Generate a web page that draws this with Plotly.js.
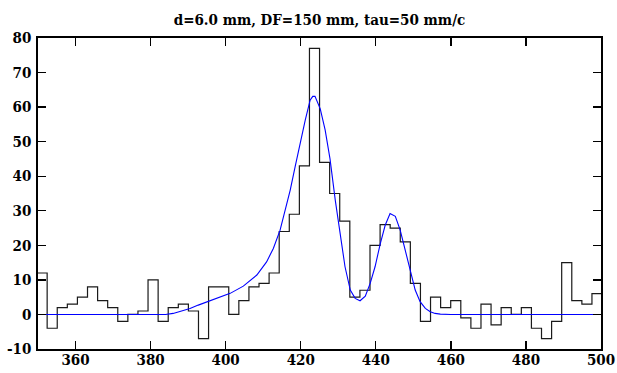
<!DOCTYPE html>
<html>
<head>
<meta charset="utf-8">
<script src="https://cdn.plot.ly/plotly-3.0.1.min.js"></script>
<style>html,body{margin:0;padding:0;background:#fff;}#chart{width:617px;height:373px;}</style>
</head>
<body>
<div id="chart"></div>
<script>
// Histogram: first bin left edge, bin width, and counts per bin
var histStart = 349.75;
var histBinWidth = 2.688;
var histCounts = [12, -4, 2, 3, 5, 8, 4, 2, -2, 0, 1, 10, -2, 2, 3, 1, -7, 8, 8, 0,
                  4, 8, 9, 12, 24, 29, 43, 77, 44, 35, 27, 5, 7, 20, 26, 25, 21, 9, -2, 5,
                  2, 4, -1, -4, 3, -3, 2, 0, 2, -4, -7, -2, 15, 4, 3, 6];

// Fit curve
var fitX = [350, 384, 386, 388.3, 390.5, 392.7, 395.8, 398.5, 401.2, 404.7, 408.3, 410.9, 412.7, 414.5,
            415.8, 417.2, 418.5, 419.8, 421.2, 422.5, 423.2, 423.8, 425.2, 426.5, 427.8, 429.2, 430.5,
            431.8, 433.2, 434.5, 435.8, 437.2, 438.5, 439.8, 441.2, 442.5, 443.8, 444.5, 445.2, 446.5,
            447.8, 449.2, 450.5, 451.8, 453.2, 454.5, 455.8, 457.2, 460, 500];
var fitY = [0, 0, 0.3, 1.0, 1.7, 2.7, 4.0, 5.0, 6.1, 8.2, 11.4, 15.2, 19.1, 24.4,
            29.7, 36.0, 42.7, 49.5, 56.2, 62.0, 63.1, 63.1, 59.5, 53.4, 45.0, 33.1, 23.4,
            13.8, 7.05, 4.65, 3.97, 5.3, 9.0, 13.8, 20.5, 25.8, 29.2, 28.9, 28.4, 24.4,
            18.6, 12.3, 7.05, 3.7, 1.75, 0.8, 0.3, 0.1, 0, 0];

var titleText = "d=6.0 mm, DF=150 mm, tau=50 mm/c";
var xTicks = [360, 380, 400, 420, 440, 460, 480, 500];
var yTicks = [-10, 0, 10, 20, 30, 40, 50, 60, 70, 80];

// Build step outline from bin edges
var hx = [], hy = [];
for (var i = 0; i < histCounts.length; i++) {
  hx.push(histStart + i * histBinWidth);
  hy.push(histCounts[i]);
}
hx.push(histStart + histCounts.length * histBinWidth);
hy.push(histCounts[histCounts.length - 1]);

var serifFont = "DejaVu Serif Condensed, DejaVu Serif";

var traces = [
  {x: hx, y: hy, type: 'scatter', mode: 'lines', line: {shape: 'hv', color: '#1a1a1a', width: 1.2}, hoverinfo: 'skip'},
  {x: fitX, y: fitY, type: 'scatter', mode: 'lines', line: {color: '#0000ff', width: 1.1}, hoverinfo: 'skip'}
];

var axisCommon = {
  showgrid: false, zeroline: false, showline: true, linecolor: '#000', linewidth: 1.6,
  mirror: 'allticks', ticks: 'inside', ticklen: 8, tickwidth: 1.3, tickcolor: '#000',
  tickfont: {family: serifFont, size: 15, color: '#000', weight: 'bold'}
};

var layout = {
  width: 617, height: 373,
  margin: {l: 38, r: 16, t: 38, b: 24, pad: 0},
  paper_bgcolor: '#fff', plot_bgcolor: '#fff',
  showlegend: false,
  title: {text: titleText, font: {family: serifFont, size: 15, color: '#000', weight: 'bold'},
          x: 0.5, xref: 'paper', xanchor: 'center', y: 1 - 20/373, yref: 'container', yanchor: 'middle'},
  xaxis: Object.assign({}, axisCommon, {range: [350, 500], tickvals: xTicks, ticktext: xTicks.map(String), ticklabelstandoff: -4}),
  yaxis: Object.assign({}, axisCommon, {range: [-10, 80], tickvals: yTicks, ticktext: yTicks.map(String), ticklabelstandoff: 2})
};

Plotly.newPlot('chart', traces, layout, {staticPlot: true, displayModeBar: false});
</script>
</body>
</html>
